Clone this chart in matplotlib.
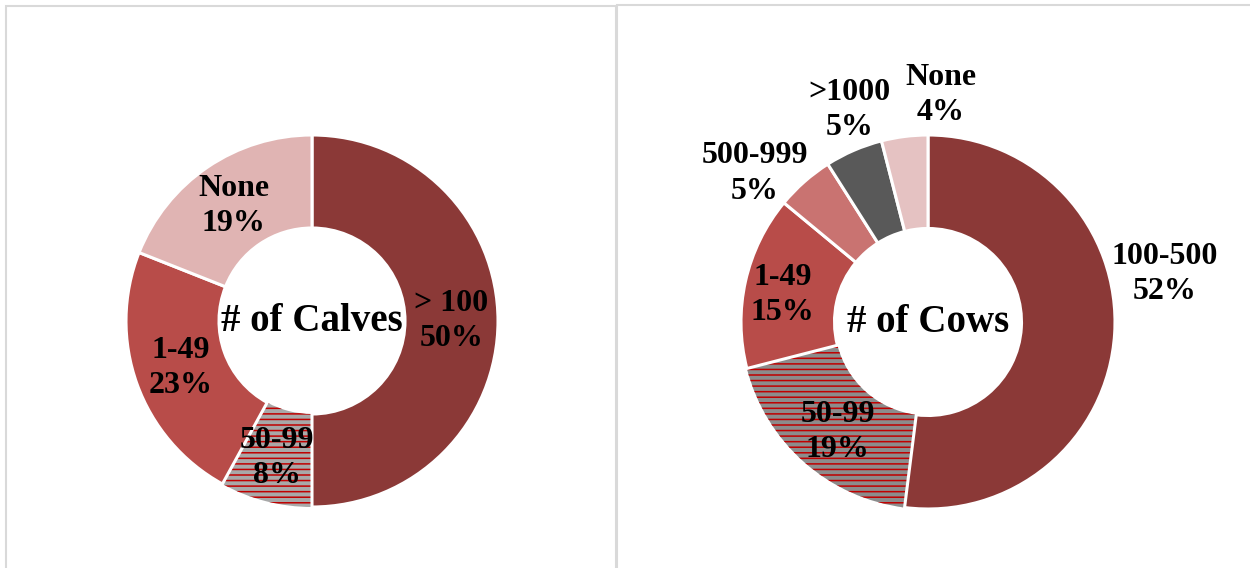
import numpy as np
import matplotlib
matplotlib.use('Agg')
import matplotlib.pyplot as plt
from matplotlib.patches import Rectangle

plt.rcParams['font.family'] = ['Liberation Serif', 'DejaVu Serif']
plt.rcParams['hatch.linewidth'] = 1.1

# data
calf_labels = ['> 100', '50-99', '1-49', 'None']
calf_pct    = [50, 8, 23, 19]
cow_labels  = ['100-500', '50-99', '1-49', '500-999', '>1000', 'None']
cow_pct     = [52, 19, 15, 5, 5, 4]

calf_colors = ['#8B3937', '#A8A8A8', '#B84C49', '#E0B4B3']
cow_colors  = ['#8B3937', '#8C8C8C', '#B84C49', '#C97371', '#595959', '#E5C2C2']
calf_hatch  = [None, '---', None, None]
cow_hatch   = [None, '---', None, None, None, None]

# label placement (radius in pie units, angle tweak in degrees)
calf_lab_r  = [0.75, 0.76, 0.75, 0.75]
calf_lab_da = [0, 0, 0, 0]
cow_lab_r   = [1.29, 0.76, 0.79, 1.22, 1.21, 1.215]
cow_lab_da  = [15, 2, 2, 8, -3, -10.5]

W, H = 1250, 568
fig = plt.figure(figsize=(W / 100, H / 100), dpi=100)

# panel frames
fig.patches.append(Rectangle((6 / W, -0.01), 610 / W, (H - 6) / H + 0.01, transform=fig.transFigure,
                             fill=False, edgecolor='#D9D9D9', linewidth=1.5))
fig.patches.append(Rectangle((617 / W, -0.01), 640 / W, (H - 5) / H + 0.01, transform=fig.transFigure,
                             fill=False, edgecolor='#D9D9D9', linewidth=1.5))


def donut(cx, cy, R, vals, labels, colors, hatches, lab_r, lab_da, title):
    s = 300.0
    ax = fig.add_axes([(cx - s) / W, (H - cy - s) / H, 2 * s / W, 2 * s / H])
    lim = s / R
    wedges, _ = ax.pie(vals, colors=colors, startangle=90, counterclock=False,
                       radius=1, wedgeprops=dict(width=0.5, edgecolor='white', linewidth=2.2))
    for w, h in zip(wedges, hatches):
        if h:
            w.set_hatch(h)
            w.set_edgecolor('#C00000')
            w.set_linewidth(0)
            w.set_zorder(0.5)
    fr = np.array(vals) / np.sum(vals)
    cum = np.cumsum(fr) - fr / 2
    for i, lab in enumerate(labels):
        ang = np.deg2rad(90 - 360 * cum[i] + lab_da[i])
        ax.text(lab_r[i] * np.cos(ang), lab_r[i] * np.sin(ang), f'{lab}\n{vals[i]}%',
                ha='center', va='center', fontsize=23, fontweight='bold', linespacing=1.28)
    ax.text(0, 0, title, ha='center', va='center', fontsize=28, fontweight='bold')
    ax.set_xlim(-lim, lim)
    ax.set_ylim(-lim, lim)
    ax.set_aspect('equal')
    ax.axis('off')


donut(312, 321, 186, calf_pct, calf_labels, calf_colors, calf_hatch, calf_lab_r, calf_lab_da, '# of Calves')
donut(928, 322, 187, cow_pct, cow_labels, cow_colors, cow_hatch, cow_lab_r, cow_lab_da, '# of Cows')

fig.savefig('out.png', dpi=100)
